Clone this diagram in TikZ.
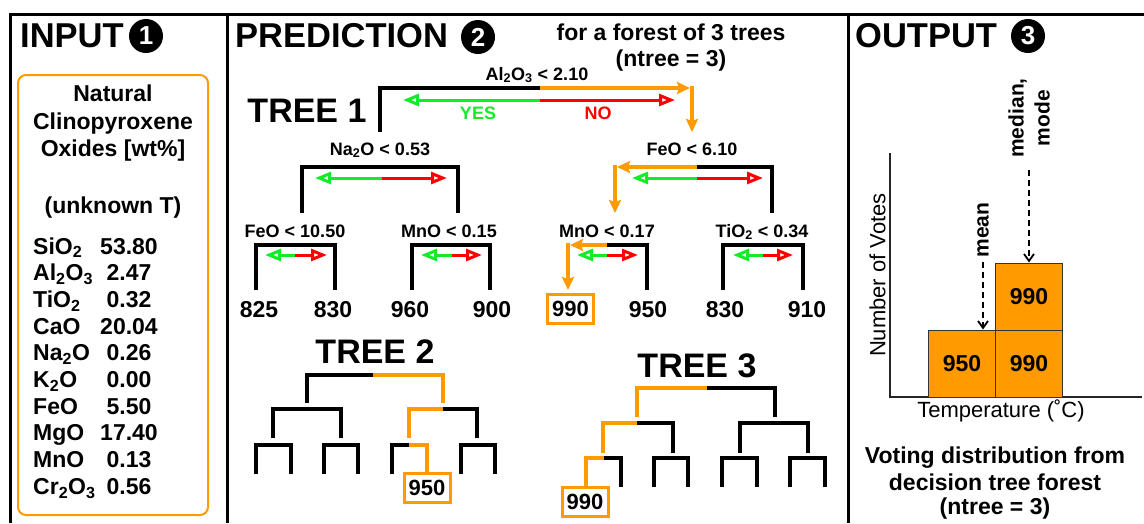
\documentclass[tikz,border=0pt]{standalone}
\usepackage{fontspec}
\setmainfont{Liberation Sans}
\usetikzlibrary{arrows.meta}
\definecolor{orng}{RGB}{255,155,0}
\definecolor{grn}{RGB}{20,235,40}
\definecolor{rd}{RGB}{255,0,0}
\begin{document}
\begin{tikzpicture}[x=1pt,y=-1pt,
  frame/.style={line width=3pt},
  br/.style={line width=3.2pt},
  obr/.style={br, draw=orng},
  oarr/.style={obr, -{Stealth[length=13pt,width=12pt,inset=2pt]}},
  yarr/.style={line width=3pt, draw=grn, -{Triangle[fill=white,length=16pt,width=12pt]}},
  narr/.style={line width=3pt, draw=rd, -{Triangle[fill=white,length=16pt,width=12pt]}},
  head/.style={font=\fontsize{34.5}{36}\selectfont\bfseries, anchor=base west, inner sep=0},
  num/.style={circle, fill=black, text=white, minimum size=34pt, inner sep=0, font=\fontsize{26}{26}\selectfont\bfseries},
  body/.style={font=\fontsize{23}{26.5}\selectfont\bfseries, anchor=base, inner sep=0},
  oxn/.style={body, anchor=base west},
  cond/.style={font=\fontsize{18}{20}\selectfont\bfseries, anchor=base, inner sep=0},
  treet/.style={font=\fontsize{34}{36}\selectfont\bfseries, anchor=base, inner sep=0},
  leaf/.style={font=\fontsize{23}{26}\selectfont\bfseries, anchor=base, inner sep=0},
  leafbox/.style={draw=orng, line width=3pt, font=\fontsize{22}{24}\selectfont\bfseries, minimum width=46pt, minimum height=29pt, inner sep=0},
  bar/.style={draw=black!80, fill=orng, line width=1pt, minimum width=67pt, minimum height=67pt, inner sep=0, font=\fontsize{23}{24}\selectfont\bfseries},
  vote/.style={line width=1.8pt, dash pattern=on 6pt off 4pt, -{Straight Barb[length=7pt,width=10pt]}}
]
\useasboundingbox (0,0) rectangle (1144,523);

% panel frame
\draw[frame] (10,523) -- (10,14) -- (1144,14);
\draw[frame] (227,14) -- (227,523);
\draw[frame] (848,14) -- (848,523);

% headers
\node[head] (hin) at (20,47) {INPUT};
\node[num] (n1) at (146,36) {1};
\node[head] (hpred) at (235,47) {PREDICTION};
\node[num] (n2) at (478,37) {2};
\node[head] (hout) at (855,47) {OUTPUT};
\node[num] (n3) at (1028,36) {3};
\node[body] (forest1) at (671,40) {for a forest of 3 trees};
\node[body] (forest2) at (671,66) {(ntree = 3)};

% ---------- input sample ----------
\draw[orng, line width=2pt, rounded corners=8pt] (18,75) rectangle (208,515);
\node[body] (s1) at (113,101) {Natural};
\node[body] (s2) at (113,129) {Clinopyroxene};
\node[body] (s3) at (113,156) {Oxides [wt\%]};
\node[body] (s4) at (113,213) {(unknown T)};
\foreach \i/\ox/\val in {0/SiO\textsubscript{2}/53.80, 1/Al\textsubscript{2}O\textsubscript{3}/2.47,
    2/TiO\textsubscript{2}/0.32, 3/CaO/20.04, 4/Na\textsubscript{2}O/0.26, 5/K\textsubscript{2}O/0.00,
    6/FeO/5.50, 7/MgO/17.40, 8/MnO/0.13, 9/Cr\textsubscript{2}O\textsubscript{3}/0.56}{
  \node[oxn] (ox\i) at (33,254+26.7*\i) {\ox};
  \node[body] (val\i) at (129,254+26.7*\i) {\val};
}

% ---------- tree 1 ----------
\node[treet] (tree1) at (307,122) {TREE 1};
\node[cond] (c0) at (537,80) {Al\textsubscript{2}O\textsubscript{3} < 2.10};
\draw[br] (380,132) -- (380,88) -- (540,88);
\draw[oarr] (540,88) -- (690,88);
\draw[oarr] (692,86.4) -- (692,132);
\draw[yarr] (540,100) -- (403,100);
\draw[narr] (540,100) -- (675,100);
\node[cond, text=grn] (yes) at (478,119) {YES};
\node[cond, text=rd] (no) at (598,119) {NO};

\node[cond] (c1) at (380,155) {Na\textsubscript{2}O < 0.53};
\draw[br] (302,213) -- (302,167) -- (458,167) -- (458,213);
\draw[yarr] (382,178) -- (315,178);
\draw[narr] (382,178) -- (447,178);

\node[cond] (c2) at (692,155) {FeO < 6.10};
\draw[br] (697,167) -- (772,167) -- (772,213);
\draw[oarr] (697,167) -- (617,167);
\draw[oarr] (615,165.4) -- (615,213);
\draw[yarr] (697,178) -- (632,178);
\draw[narr] (697,178) -- (763,178);

\node[cond] (c3) at (295,237) {FeO < 10.50};
\draw[br] (256,290) -- (256,245) -- (335,245) -- (335,290);
\draw[yarr] (295,255) -- (265,255);
\draw[narr] (295,255) -- (327,255);
\node[leaf] (l1) at (259,317) {825};
\node[leaf] (l2) at (333,317) {830};

\node[cond] (c4) at (449,237) {MnO < 0.15};
\draw[br] (412,290) -- (412,245) -- (490,245) -- (490,290);
\draw[yarr] (452,255) -- (421,255);
\draw[narr] (452,255) -- (482,255);
\node[leaf] (l3) at (410,317) {960};
\node[leaf] (l4) at (492,317) {900};

\node[cond] (c5) at (607,237) {MnO < 0.17};
\draw[br] (607,245) -- (647,245) -- (647,290);
\draw[oarr] (607,245) -- (570,245);
\draw[oarr] (568,243.4) -- (568,290);
\draw[yarr] (607,255) -- (577,255);
\draw[narr] (607,255) -- (638,255);
\node[leafbox] (l5) at (570.5,309) {990};
\node[leaf] (l6) at (648,317) {950};

\node[cond] (c6) at (762,237) {TiO\textsubscript{2} < 0.34};
\draw[br] (723,290) -- (723,245) -- (803,245) -- (803,290);
\draw[yarr] (763,255) -- (733,255);
\draw[narr] (763,255) -- (793,255);
\node[leaf] (l7) at (725,317) {830};
\node[leaf] (l8) at (807,317) {910};

% ---------- tree 2 ----------
\node[treet] (tree2) at (375,363) {TREE 2};
\draw[br] (307,403) -- (307,375) -- (373,375);
\draw[obr] (373,375) -- (443,375) -- (443,403);
\draw[br] (273,438) -- (273,409) -- (341,409) -- (341,438);
\draw[obr] (409,438) -- (409,409) -- (443,409);
\draw[br] (443,409) -- (477,409) -- (477,438);
\foreach \a/\b in {256/291, 324/358, 461/495}
  \draw[br] (\a,474) -- (\a,445) -- (\b,445) -- (\b,474);
\draw[br] (392,474) -- (392,445) -- (409,445);
\node[leafbox] (t2leaf) at (427,488) {950};
\draw[obr] (409,445) -- (427,445) -- (t2leaf.north);

% ---------- tree 3 ----------
\node[treet] (tree3) at (697,377) {TREE 3};
\draw[obr] (637,417) -- (637,388) -- (707,388);
\draw[br] (707,388) -- (775,388) -- (775,417);
\draw[obr] (603,453) -- (603,423) -- (637,423);
\draw[br] (637,423) -- (673,423) -- (673,453);
\draw[br] (740,453) -- (740,423) -- (808,423) -- (808,453);
\foreach \a/\b in {654/688, 722/757, 790/825}
  \draw[br] (\a,487) -- (\a,458) -- (\b,458) -- (\b,487);
\draw[br] (604,458) -- (621,458) -- (621,487);
\node[leafbox] (t3leaf) at (585,501.5) {990};
\draw[obr] (t3leaf.north -| 586,0) -- (586,458) -- (604,458);

% ---------- output: vote histogram ----------
\draw[line width=1.5pt, black!85] (890,153) -- (890,397) -- (1142,397);
\node[bar] (v950) at (962,363.5) {950};
\node[bar] (v990a) at (1029,363.5) {990};
\node[bar] (v990b) at (1029,296.5) {990};
\node[rotate=90, font=\fontsize{22}{24}\selectfont, inner sep=0] (ylab) at (877.5,275) {Number of Votes};
\node[font=\fontsize{22}{24}\selectfont, anchor=base, inner sep=0] (xlab) at (1001,417) {Temperature (˚C)};

\node[rotate=90, font=\fontsize{21}{24}\selectfont\bfseries, inner sep=0] (mean) at (983,230) {mean};
\coordinate (meanstart) at (983,262);
\draw[vote] (meanstart) -- (v950.north -| meanstart);
\node[rotate=90, align=center, font=\fontsize{21}{26}\selectfont\bfseries, inner sep=0] (med) at (1029,118) {median,\\mode};
\coordinate (medstart) at (1029,170);
\draw[vote] (medstart) -- (v990b.north);

\node[body] (cap1) at (995,463) {Voting distribution from};
\node[body] (cap2) at (995,490) {decision tree forest};
\node[body] (cap3) at (995,514) {(ntree = 3)};
\end{tikzpicture}
\end{document}
